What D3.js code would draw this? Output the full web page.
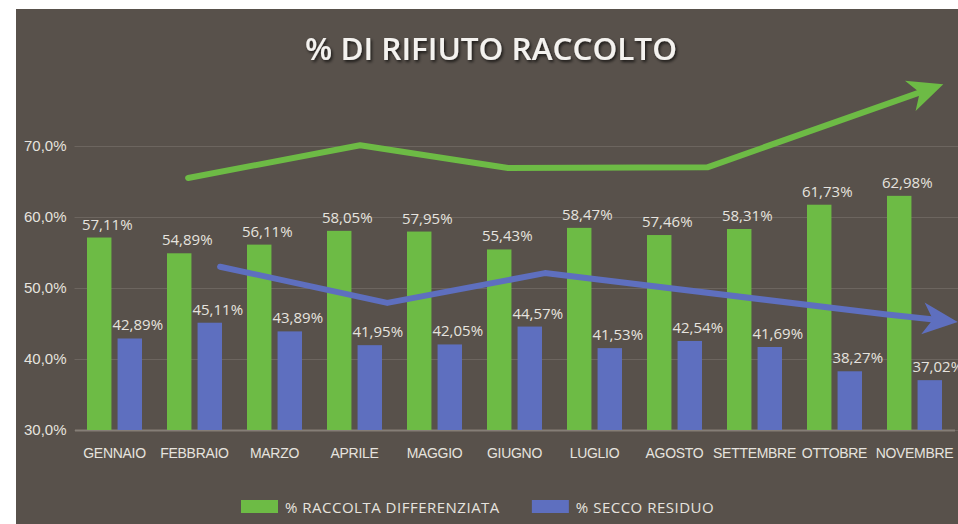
<!DOCTYPE html>
<html>
<head>
<meta charset="utf-8">
<script src="https://cdn.jsdelivr.net/npm/d3@7"></script>
<style>
    body { margin: 0; background: #fff; }
    svg { display: block; font-family: "Open Sans", sans-serif; }
</style>
</head>
<body>
<div id="chart"></div>
<script>
'use strict';

var months = ["GENNAIO", "FEBBRAIO", "MARZO", "APRILE", "MAGGIO", "GIUGNO",
    "LUGLIO", "AGOSTO", "SETTEMBRE", "OTTOBRE", "NOVEMBRE"];
var differenziata = [57.11, 54.89, 56.11, 58.05, 57.95, 55.43, 58.47, 57.46, 58.31, 61.73, 62.98];
var secco = [42.89, 45.11, 43.89, 41.95, 42.05, 44.57, 41.53, 42.54, 41.69, 38.27, 37.02];
var yTicks = [30, 40, 50, 60, 70];
var seriesNames = ["% RACCOLTA DIFFERENZIATA", "% SECCO RESIDUO"];
// hand drawn trend arrows: [position counted in months, value %]
var trendUp = [[1.42, 65.5], [3.57, 70.1], [5.42, 66.9], [7.91, 67.0], [10.86, 78.7]];
var trendDown = [[1.82, 53.0], [3.91, 47.9], [5.88, 52.1], [10.13, 46.3], [11.04, 45.2]];

var W = 958, H = 524;
var bg = "#58514b", green = "#6dbb45", blue = "#5e6fbf", txt = "#e6e3df";

var it = d3.formatLocale({ decimal: ",", thousands: ".", grouping: [3], currency: ["€", ""] });
var f1 = it.format(".1f"), f2 = it.format(".2f");

var svg = d3.select("#chart").append("svg")
    .attr("width", W)
    .attr("height", H);

var defs = svg.append("defs");
defs.append("filter").attr("id", "shadow")
    .attr("x", "-10%").attr("y", "-30%").attr("width", "120%").attr("height", "160%")
    .append("feDropShadow")
    .attr("dx", 1.5).attr("dy", 2).attr("stdDeviation", 1.5)
    .attr("flood-color", "#000").attr("flood-opacity", 0.7);

svg.append("rect")
    .attr("x", 16).attr("y", 9)
    .attr("width", W - 16).attr("height", H - 9)
    .attr("fill", bg);

var x0 = d3.scaleBand()
    .domain(months)
    .range([74.5, 74.5 + 80 * months.length])
    .paddingInner(0.3125)
    .paddingOuter(0.15625);

var x1 = d3.scaleBand()
    .domain(["d", "s"])
    .range([0, x0.bandwidth()])
    .paddingInner(0.2);

var xPos = d3.scaleLinear()
    .domain([0, months.length])
    .range(x0.range());

var y = d3.scaleLinear()
    .domain([30, 70])
    .range([430, 146]);

// grid + y labels
var yAxis = svg.append("g")
    .attr("transform", "translate(74.5,0)")
    .call(d3.axisLeft(y)
        .tickValues(yTicks)
        .tickSize(-(W - 74.5))
        .tickPadding(8)
        .tickFormat(function (d) { return f1(d) + "%"; }));
yAxis.select(".domain").remove();
yAxis.selectAll("line")
    .attr("stroke", "#6c655f")
    .attr("stroke-width", 1);
yAxis.selectAll("text")
    .attr("fill", txt)
    .style("font-size", "15px");

// x axis
var xAxis = svg.append("g")
    .attr("transform", "translate(0,430)")
    .call(d3.axisBottom(x0).tickSize(0).tickPadding(18));
xAxis.select(".domain")
    .attr("stroke", "#857e77")
    .attr("stroke-width", 2);
xAxis.selectAll("text")
    .attr("fill", txt)
    .style("font-size", "14px")
    .style("letter-spacing", "-0.3px");

// bars
var groups = svg.append("g").selectAll("g")
    .data(months)
    .join("g")
    .attr("transform", function (d) { return "translate(" + x0(d) + ",0)"; });

var series = [
    { key: "d", values: differenziata, color: green },
    { key: "s", values: secco, color: blue }
];

series.forEach(function (s) {
    groups.append("rect")
        .attr("x", x1(s.key))
        .attr("width", x1.bandwidth())
        .attr("y", function (d, i) { return y(s.values[i]); })
        .attr("height", function (d, i) { return y(30) - y(s.values[i]); })
        .attr("fill", s.color);

    groups.append("text")
        .attr("x", x1(s.key) + x1.bandwidth() / 2 + 8)
        .attr("y", function (d, i) { return y(s.values[i]) - 8; })
        .attr("text-anchor", "middle")
        .attr("fill", txt)
        .style("font-size", "15px")
        .text(function (d, i) { return f2(s.values[i]) + "%"; });
});

// trend arrows
function arrow(pts, color) {
    var p = pts.map(function (d) { return [xPos(d[0]), y(d[1])]; });
    var a = p[p.length - 2], b = p[p.length - 1];
    var ang = Math.atan2(b[1] - a[1], b[0] - a[0]);
    var cut = p.slice(0, -1).concat([[b[0] - 24 * Math.cos(ang), b[1] - 24 * Math.sin(ang)]]);

    svg.append("path")
        .datum(cut)
        .attr("d", d3.line())
        .attr("fill", "none")
        .attr("stroke", color)
        .attr("stroke-width", 6)
        .attr("stroke-linecap", "round")
        .attr("stroke-linejoin", "round");

    svg.append("path")
        .attr("d", "M0,0L-35,-16L-25,0L-35,16Z")
        .attr("fill", color)
        .attr("transform", "translate(" + b[0] + "," + b[1] + ") rotate(" + (ang * 180 / Math.PI) + ")");
}
arrow(trendUp, green);
arrow(trendDown, blue);

// title
svg.append("text")
    .attr("x", 491)
    .attr("y", 60)
    .attr("text-anchor", "middle")
    .attr("fill", "#f4f2ef")
    .attr("filter", "url(#shadow)")
    .style("font-size", "31.5px")
    .style("font-weight", 600)
    .text("% DI RIFIUTO RACCOLTO");

// legend
var legend = svg.append("g").attr("transform", "translate(241,500)");
var lx = 0;
[green, blue].forEach(function (c, i) {
    var item = legend.append("g").attr("transform", "translate(" + lx + ",0)");
    item.append("rect")
        .attr("width", 37).attr("height", 13)
        .attr("fill", c);
    var t = item.append("text")
        .attr("x", 44).attr("y", 12.5)
        .attr("fill", txt)
        .style("font-size", "15px")
        .style("letter-spacing", "0.5px")
        .text(seriesNames[i]);
    lx += 44 + t.node().getComputedTextLength() + 32;
});
</script>
</body>
</html>
